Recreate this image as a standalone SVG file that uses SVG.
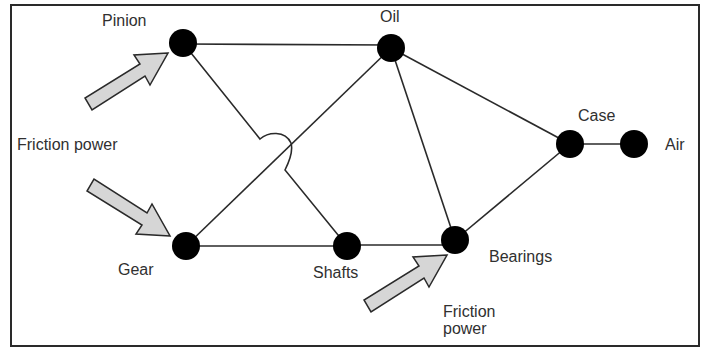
<svg xmlns="http://www.w3.org/2000/svg" width="705" height="348" viewBox="0 0 705 348">
<defs>
<style>
.edge{stroke:#2a2a2a;stroke-width:1.6;fill:none}
.node{fill:#000}
.lbl{font-family:"Liberation Sans",Arial,sans-serif;font-size:16px;fill:#303030}
.arrow{fill:#d6d6d6;stroke:#2a2a2a;stroke-width:1.5;stroke-linejoin:miter}
</style>
<path id="blk" d="M0,0 L-34,2 L-28,11 L-83,45 L-76,57 L-23,23 L-18,32 Z"/>
</defs>
<rect width="705" height="348" fill="#fff"/>
<rect x="11" y="5" width="688" height="341" fill="none" stroke="#2a2a2a" stroke-width="2"/>
<g id="connectors">
<line class="edge" x1="183" y1="44" x2="391" y2="45"/>
<path class="edge" d="M183,43 L260,139 C268,132 285,130 291,143 C293,150 290,160 285,170 L347,246"/>
<line class="edge" x1="186" y1="246" x2="391" y2="48"/>
<line class="edge" x1="186" y1="246" x2="347" y2="246"/>
<line class="edge" x1="347" y1="245" x2="452" y2="245"/>
<line class="edge" x1="391" y1="48" x2="455" y2="240"/>
<line class="edge" x1="391" y1="48" x2="570" y2="144"/>
<line class="edge" x1="570" y1="144" x2="455" y2="240"/>
<line class="edge" x1="570" y1="144" x2="634" y2="144"/>
</g>
<g id="arrows">
<use href="#blk" class="arrow" transform="translate(168,53)"/>
<use href="#blk" class="arrow" transform="translate(170,236) scale(1,-1)"/>
<use href="#blk" class="arrow" transform="translate(447,255)"/>
</g>
<g id="pinion"><circle class="node" cx="183" cy="43" r="14"/><text class="lbl" x="102" y="26">Pinion</text></g>
<g id="oil"><circle class="node" cx="391" cy="48" r="14"/><text class="lbl" x="380" y="22">Oil</text></g>
<g id="case"><circle class="node" cx="570" cy="144" r="14"/><text class="lbl" x="578" y="121">Case</text></g>
<g id="air"><circle class="node" cx="634" cy="144" r="14"/><text class="lbl" x="665" y="150">Air</text></g>
<g id="gear"><circle class="node" cx="186" cy="246" r="14"/><text class="lbl" x="118" y="275">Gear</text></g>
<g id="shafts"><circle class="node" cx="347" cy="246" r="14"/><text class="lbl" x="313" y="278">Shafts</text></g>
<g id="bearings"><circle class="node" cx="455" cy="240" r="14"/><text class="lbl" x="489" y="262">Bearings</text></g>
<g id="friction-left"><text class="lbl" x="17" y="150">Friction power</text></g>
<g id="friction-bottom"><text class="lbl" x="443" y="317">Friction</text><text class="lbl" x="443" y="334">power</text></g>
</svg>
